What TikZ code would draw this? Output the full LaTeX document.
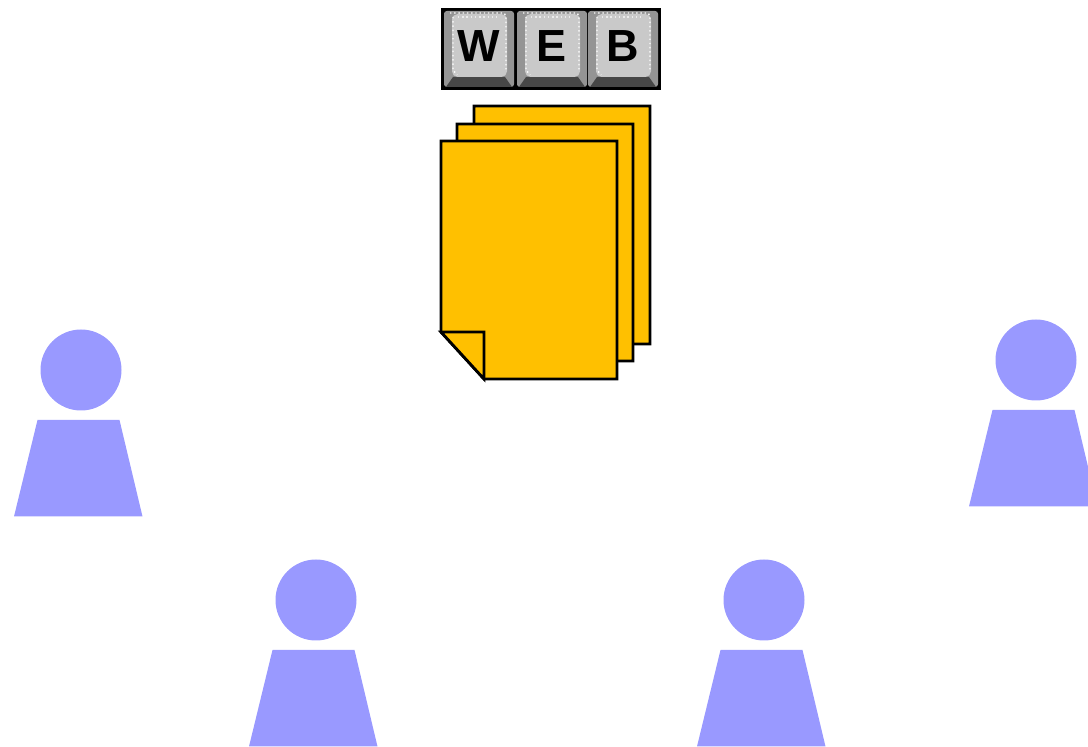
\documentclass[tikz,border=0pt]{standalone}
\usepackage{fontspec}
\setmainfont{Liberation Sans}
\definecolor{pagefill}{HTML}{FFC000}
\definecolor{userfill}{HTML}{9999FF}
\tikzset{
	pageline/.style={draw=black,line width=2pt,fill=pagefill,line join=miter},
	userpart/.style={fill=userfill,draw=none},
	keyrim/.style={fill=black!42,draw=none,rounded corners=2pt},
	keyface/.style={fill=black!21,draw=none,rounded corners=4pt},
	keyglow/.style={draw=white,line width=1pt,dotted},
	keyband/.style={fill=black!72,draw=none},
	keylabel/.style={font=\bfseries\fontsize{32}{32}\selectfont,text=black,inner sep=0pt}
}
\begin{document}
\begin{tikzpicture}[x=0.025cm,y=-0.025cm,line join=round]
	\def\xmin{0} \def\xmax{1088} \def\ymin{0} \def\ymax{747}
	\clip (\xmin,\ymin) rectangle (\xmax,\ymax);
	% keys
	\fill[black] (441,8) rectangle (661,90);
	\foreach \x/\t/\c/\n in {444/W/35/keyW,517/E/35/keyE,588/B/35/keyB}
	{
		\fill[keyrim] (\x,11) rectangle (\x+70,87);
		\fill[keyband] (\x+2,87)--(\x+9,77)--(\x+61,77)--(\x+68,87)--cycle;
		\fill[keyface] (\x+8,14) rectangle (\x+63,77);
		\draw[keyglow] (\x+6,13) -- (\x+60,13) -- (\x+62,16) -- (\x+62,72);
		\draw[keyglow] (\x+9,17) -- (\x+9,70) -- (\x+13,75);
		\draw[keyglow,draw=black!8] (\x+14,17) -- (\x+56,17);
		\node[keylabel] (\n) at (\x+\c,46) {\t};
	}
	% pages
	\draw[pageline] (474,106)--(650,106)--(650,344)--(517,344)--(474,297)--cycle;
	\draw[pageline] (457,124)--(633,124)--(633,361)--(500,361)--(457,314)--cycle;
	\draw[pageline] (441,141)--(617,141)--(617,379)--(484,379)--(441,332)--cycle;
	\draw[pageline] (441,332)--(484,332)--(484,379)--cycle;
	% users
	\foreach \x/\y in {81/370,316/600,764/600,1036/360}
	{
		\fill[userpart] (\x,\y) circle (40.5);
		\fill[userpart] (\x-43.5,\y+50)--(\x+38.5,\y+50)--(\x+61.5,\y+146.5)--(\x-67,\y+146.5)--cycle;
	}
\end{tikzpicture}
\end{document}
